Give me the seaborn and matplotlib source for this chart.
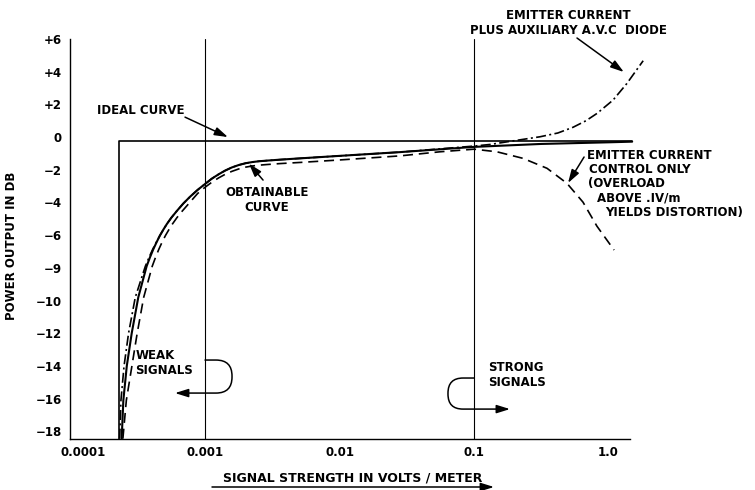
import matplotlib
matplotlib.use('Agg')
import matplotlib.pyplot as plt
import matplotlib.transforms as mtransforms
import seaborn as sns

# values (signal strength in V/m, power output in dB)
ideal_x = [0.00023, 0.00023, 1.5]
ideal_y = [-18.45, -0.23, -0.23]

# obtainable curve
obt_x = [0.00024, 0.000247, 0.000262, 0.000285, 0.000319, 0.000368, 0.000389, 0.000412,
         0.000437, 0.000462, 0.00049, 0.00052, 0.000562, 0.000617, 0.00069, 0.000776,
         0.000881, 0.001, 0.00112, 0.00126, 0.00141, 0.00158, 0.00178, 0.002, 0.00224,
         0.00251, 0.00288, 0.00363, 0.00513, 0.01, 0.0282, 0.1, 0.316, 1.0, 1.5]
obt_y = [-18.45, -16.1, -14.0, -12.0, -9.8, -7.9, -7.37, -6.87,
         -6.42, -6.02, -5.66, -5.32, -4.93, -4.52, -4.06, -3.64,
         -3.23, -2.87, -2.55, -2.28, -2.05, -1.86, -1.71, -1.6, -1.53,
         -1.48, -1.44, -1.38, -1.3, -1.15, -0.92, -0.6, -0.42, -0.32, -0.28]

# emitter current control only
emit_x = [0.000245, 0.00026, 0.000286, 0.000313, 0.00035, 0.000405, 0.000428, 0.000453,
          0.00048, 0.000508, 0.000539, 0.000572, 0.000618, 0.000678, 0.000759, 0.000881,
          0.001, 0.00112, 0.00126, 0.00141, 0.00158, 0.00178, 0.002, 0.00224, 0.00251,
          0.00288, 0.00363, 0.00513, 0.01, 0.0282, 0.0558, 0.1, 0.148, 0.231, 0.349,
          0.491, 0.646, 0.82, 1.1]
emit_y = [-18.45, -16.1, -14.0, -12.0, -9.8, -7.9, -7.37, -6.87,
          -6.42, -6.02, -5.66, -5.32, -4.93, -4.52, -4.06, -3.45,
          -3.07, -2.77, -2.5, -2.28, -2.1, -1.95, -1.84, -1.77, -1.72,
          -1.68, -1.62, -1.55, -1.4, -1.15, -0.9, -0.74, -0.9, -1.3, -1.91,
          -2.83, -3.98, -5.45, -6.91]

# emitter current plus auxiliary A.V.C diode
diode_x = [0.000232, 0.000237, 0.00025, 0.00027, 0.000303, 0.00036, 0.000383, 0.000408,
           0.000435, 0.000462, 0.00049, 0.00052, 0.000562, 0.000617, 0.00069, 0.000776,
           0.000881, 0.001, 0.00112, 0.00126, 0.00141, 0.00158, 0.00178, 0.002, 0.00224,
           0.00251, 0.00288, 0.00363, 0.00513, 0.01, 0.0282, 0.1, 0.132, 0.2, 0.31,
           0.42, 0.545, 0.68, 0.822, 1.08, 1.37, 1.81]
diode_y = [-18.45, -16.1, -14.0, -12.0, -9.8, -7.9, -7.37, -6.87,
           -6.42, -6.02, -5.66, -5.32, -4.93, -4.52, -4.06, -3.64,
           -3.23, -2.87, -2.55, -2.28, -2.05, -1.86, -1.71, -1.6, -1.53,
           -1.48, -1.44, -1.38, -1.3, -1.15, -0.92, -0.55, -0.45, -0.22, 0.02,
           0.25, 0.6, 1.0, 1.45, 2.26, 3.28, 4.67]

x_ticks = [0.0001, 0.001, 0.01, 0.1, 1.0]
x_labels = ['0.0001', '0.001', '0.01', '0.1', '1.0']
y_ticks = [6, 4, 2, 0, -2, -4, -6, -8, -10, -12, -14, -16, -18]
y_labels = ['+6', '+4', '+2', '0', '\u22122', '\u22124', '\u22126', '\u22129', '\u221210',
            '\u221212', '\u221214', '\u221216', '\u221218']

sns.set_style('white')
plt.rcParams['font.family'] = ['DejaVu Sans']
plt.rcParams['font.weight'] = 'bold'
plt.rcParams['text.color'] = 'black'
plt.rcParams['axes.labelcolor'] = 'black'
plt.rcParams['xtick.color'] = 'black'
plt.rcParams['ytick.color'] = 'black'
fs = 8.5

fig = plt.figure(figsize=(7.55, 4.9), dpi=100)
ax = fig.add_axes([70 / 755, 51 / 490, 680 / 755, 400 / 490])
ax.set_xscale('log')

# curves
sns.lineplot(x=ideal_x, y=ideal_y, ax=ax, color='black', lw=1.2, sort=False, estimator=None)
sns.lineplot(x=diode_x, y=diode_y, ax=ax, color='black', lw=1.2, sort=False, estimator=None,
             linestyle=(0, (6, 2, 1.2, 2)))
sns.lineplot(x=emit_x, y=emit_y, ax=ax, color='black', lw=1.2, sort=False, estimator=None,
             linestyle=(0, (6, 3.5)))
sns.lineplot(x=obt_x, y=obt_y, ax=ax, color='black', lw=1.5, sort=False, estimator=None)

ax.axvline(0.001, color='black', lw=0.8)
ax.axvline(0.1, color='black', lw=0.8)

ax.set_xlim(10 ** -4.004, 10 ** 1.052)
ax.set_ylim(-18.47, 6.0)
ax.set_xticks(x_ticks)
ax.set_xticklabels(x_labels, fontsize=fs, fontweight='bold')
ax.minorticks_off()
ax.set_yticks(y_ticks)
ax.set_yticklabels(y_labels, fontsize=fs, fontweight='bold')
ax.tick_params(axis='both', length=0)
ax.tick_params(axis='y', pad=6)
ax.tick_params(axis='x', pad=5)

for s in ['top', 'right']:
    ax.spines[s].set_visible(False)
for s in ['left', 'bottom']:
    ax.spines[s].set_color('black')
    ax.spines[s].set_linewidth(1.0)
ax.spines['bottom'].set_bounds(10 ** -4.004, 1.45)

# first label sits a bit right of the axis in the drawing
lbl = ax.get_xticklabels()[0]
lbl.set_transform(lbl.get_transform() + mtransforms.ScaledTranslation(0.13, 0, fig.dpi_scale_trans))

ax.set_xlabel('SIGNAL STRENGTH IN VOLTS / METER', fontsize=9, fontweight='bold', va='center')
ax.xaxis.set_label_coords(0.416, -0.0975)
ax.set_ylabel('POWER OUTPUT IN DB', fontsize=fs, fontweight='bold', va='center')
ax.yaxis.set_label_coords(-0.0853, 0.4825)

arrow = dict(arrowstyle='-|>,head_length=0.8,head_width=0.25', color='black', lw=1.1,
             shrinkA=0, shrinkB=0, mutation_scale=10)

# arrow under the x label
ax.annotate('', xy=(494 / 755, 1 - 487 / 490), xytext=(212 / 755, 1 - 487 / 490),
            xycoords='figure fraction', textcoords='figure fraction', arrowprops=arrow)

# ideal curve
ax.text(0.000157, 1.65, 'IDEAL CURVE', fontsize=fs, fontweight='bold', ha='left', va='center')
ax.annotate('', xy=(0.00148, 0.0), xytext=(0.00071, 1.22), arrowprops=arrow)

# obtainable curve
ax.text(0.00289, -3.85, 'OBTAINABLE\nCURVE', fontsize=fs, fontweight='bold', ha='center',
        va='center', multialignment='center')
ax.annotate('', xy=(0.00212, -1.62), xytext=(0.0027, -2.63), arrowprops=arrow)

# weak / strong signals with curled arrows
ax.text(0.000496, -13.82, 'WEAK\nSIGNALS', fontsize=fs, fontweight='bold', ha='center',
        va='center', multialignment='left')
ax.annotate('', xy=(0.000598, -15.66), xytext=(0.001, -13.64),
            arrowprops=dict(arrow, connectionstyle='arc,angleA=0,angleB=0,armA=27,armB=57,rad=16'))
ax.text(0.127, -14.56, 'STRONG\nSIGNALS', fontsize=fs, fontweight='bold', ha='left',
        va='center', multialignment='left')
ax.annotate('', xy=(0.185, -16.64), xytext=(0.1, -14.74),
            arrowprops=dict(arrow, connectionstyle='arc,angleA=180,angleB=180,armA=26,armB=62,rad=15'))

# emitter current plus auxiliary diode
ax.text(0.5, 6.97, 'EMITTER CURRENT\nPLUS AUXILIARY A.V.C  DIODE', fontsize=fs, fontweight='bold',
        ha='center', va='center', multialignment='center')
ax.annotate('', xy=(1.30, 3.98), xytext=(0.583, 6.06), arrowprops=arrow, annotation_clip=False)

# emitter current only
note_lines = ['EMITTER CURRENT', 'CONTROL ONLY', '(OVERLOAD', 'ABOVE .IV/m', 'YIELDS DISTORTION)']
note_x = [0.69, 0.72, 0.705, 0.821, 0.942]
note_y = [-1.10, -1.98, -2.85, -3.73, -4.60]
for t, xx, yy in zip(note_lines, note_x, note_y):
    ax.text(xx, yy, t, fontsize=fs, fontweight='bold', ha='left', va='center')
ax.annotate('', xy=(0.5, -2.81), xytext=(0.658, -1.22), arrowprops=arrow)

fig.savefig('out.png', dpi=100)
